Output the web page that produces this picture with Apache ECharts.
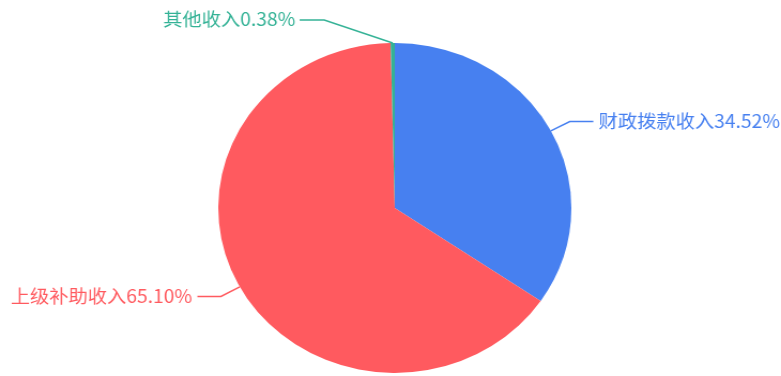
<!DOCTYPE html>
<html>
<head>
<meta charset="utf-8">
<script src="https://cdn.jsdelivr.net/npm/echarts@6/dist/echarts.min.js"></script>
<style>
  html, body { margin: 0; padding: 0; background: #fff; overflow: hidden; }
  #wrap { width: 781px; height: 376px; overflow: hidden; }
  #chart { width: 730px; height: 376px; transform: scaleX(1.0699); transform-origin: 0 0; }
</style>
</head>
<body>
<div id="wrap"><div id="chart"></div></div>
<script>
// Income composition (percent of total)
const categories = ['财政拨款收入', '上级补助收入', '其他收入'];
const shares = [34.52, 65.10, 0.38];
const sliceColors = ['#4780F0', '#FF5A5F', '#34B296'];

const chart = echarts.init(document.getElementById('chart'), null, { renderer: 'canvas' });

const data = categories.map((name, i) => ({
  name: name,
  value: shares[i],
  itemStyle: { color: sliceColors[i] },
  label: { color: sliceColors[i] }
}));

chart.setOption({
  animation: false,
  series: [{
    type: 'pie',
    center: [369, 208],
    radius: 165,
    startAngle: 90,
    clockwise: true,
    data: data,
    label: {
      show: true,
      fontSize: 18,
      overflow: 'none',
      fontFamily: '"Noto Sans CJK SC", "Noto Sans", sans-serif',
      formatter: p => p.name + p.value.toFixed(2) + '%'
    },
    labelLine: {
      show: true,
      length: 20,
      length2: 22,
      lineStyle: { width: 1.5 }
    },
    // the thin slice at the top gets its label pulled up and to the left
    labelLayout: function (params) {
      if (params.dataIndex !== 2 || !params.labelLinePoints) return {};
      const p0 = params.labelLinePoints[0];
      const bend = [p0[0] - 64, 20];
      const end = [bend[0] - 23, 20];
      return {
        x: end[0] - 4,
        y: 19,
        align: 'right',
        verticalAlign: 'middle',
        labelLinePoints: [p0, bend, end]
      };
    }
  }]
});
</script>
</body>
</html>
